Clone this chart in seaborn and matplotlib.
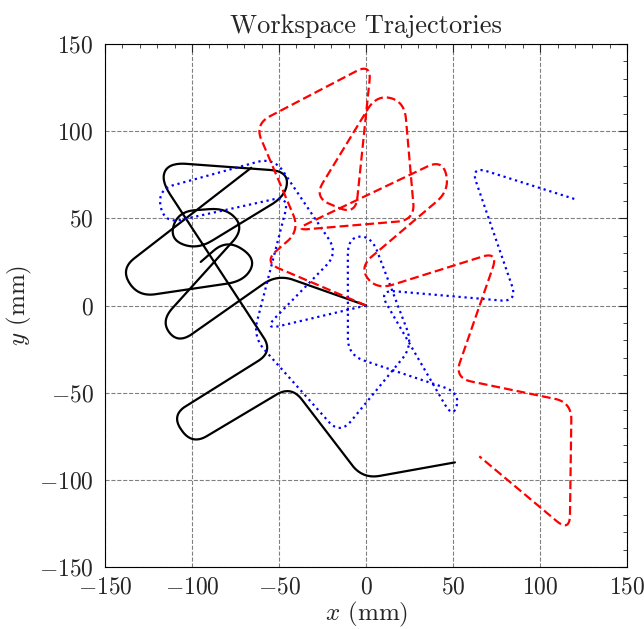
import numpy as np
import pandas as pd
import matplotlib
matplotlib.use("Agg")
import matplotlib.pyplot as plt
import seaborn as sns

# ---- data: trajectory waypoints (mm) ----
black_x = [0, -51, -108, -118, -70, -80, -108, -113, -97, -46, -45, -113, -118,
           -53.5, -112, -100, -43, -2, 51]
black_y = [0, 18, -22, -9, 44, 56, 54, 38, 32, 63, 77, 82, 72,
           -26.5, -63, -80, -46, -99.5, -90]

black_branch_x = [-66, -141, -131, -70, -63, -80, -95]
black_branch_y = [79, 21, 5, 14, 27, 38, 25]

blue_x = [0, -59, -16, -53, -120, -116, -44, -65, -15, 27, 3, -10.5, -10.5, 54, 50, 7, 87, 60, 121]
blue_y = [0, -14, 30, 85, 66.5, 47, 63, -18, -74, -23, 40, 39, -28.5, -50, -65, 9, 2, 80, 60.7]

red_x = [0, -59, -38, -64, 3, -6, -30, 6, 22, 28, -42, 44, 48, -4, 6, 76, 50.7, 118, 117, 65]
red_y = [0, 25, 43, 104, 139, 52, 62, 121, 117, 49, 43, 84, 66, 22, 9, 31, -41.6, -55.5, -130, -86.5]

blend_radius = 10.0


def blended(xs, ys, r=blend_radius, n=16):
    P = np.column_stack([xs, ys]).astype(float)
    out = [P[0]]
    for i in range(1, len(P) - 1):
        a, v, b = P[i - 1], P[i], P[i + 1]
        la, lb = np.linalg.norm(v - a), np.linalg.norm(b - v)
        da, db = min(r, 0.5 * la), min(r, 0.5 * lb)
        p0 = v + (a - v) / la * da
        p2 = v + (b - v) / lb * db
        t = np.linspace(0, 1, n)[:, None]
        out.extend(list((1 - t) ** 2 * p0 + 2 * (1 - t) * t * v + t ** 2 * p2))
    out.append(P[-1])
    out = np.array(out)
    return out[:, 0], out[:, 1]


pieces = [
    ("black", "main", black_x, black_y),
    ("black", "branch", black_branch_x, black_branch_y),
    ("blue", "main", blue_x, blue_y),
    ("red", "main", red_x, red_y),
]
frames = []
for name, part, xs, ys in pieces:
    bx, by = blended(xs, ys)
    frames.append(pd.DataFrame({"x": bx, "y": by, "traj": name, "part": part}))
df = pd.concat(frames, ignore_index=True)

sns.set_theme(style="white")
plt.rcParams.update({
    "font.family": "serif",
    "font.serif": ["cmr10", "DejaVu Serif"],
    "mathtext.fontset": "cm",
    "axes.formatter.use_mathtext": True,
    "axes.unicode_minus": True,
})

fig = plt.figure(figsize=(6.44, 6.29), dpi=100)
ax = fig.add_axes([0.163, 0.0986, 0.811, 0.8314])

styles = {"black": ("black", "-"), "blue": ("blue", (0, (1, 1.7))), "red": ("red", (0, (4, 1.8)))}
for name in ["black", "blue", "red"]:
    c, ls = styles[name]
    for part in ["main", "branch"]:
        sub = df[(df.traj == name) & (df.part == part)]
        if sub.empty:
            continue
        sns.lineplot(data=sub, x="x", y="y", sort=False, estimator=None, color=c,
                     linestyle=ls, linewidth=1.6, ax=ax, legend=False)

ax.set_xlim(-150, 150)
ax.set_ylim(-150, 150)
ax.set_xticks(np.arange(-150, 151, 50))
ax.set_yticks(np.arange(-150, 151, 50))
ax.set_xticks(np.arange(-150, 151, 10), minor=True)
ax.set_yticks(np.arange(-150, 151, 10), minor=True)
ax.grid(True, which="major", color="gray", linestyle="--", linewidth=0.8)
ax.tick_params(which="both", direction="in", top=True, right=True, labelsize=17)
ax.tick_params(axis="x", which="major", pad=7)
ax.tick_params(axis="y", which="major", pad=8)
ax.tick_params(which="major", length=6, width=0.8)
ax.tick_params(which="minor", length=3, width=0.6)
for s in ax.spines.values():
    s.set_color("black")
    s.set_linewidth(0.8)
ax.set_xlabel("$x$ (mm)", fontsize=18, labelpad=1)
ax.set_ylabel("$y$ (mm)", fontsize=18, labelpad=4)
ax.set_title("Workspace Trajectories", fontsize=19, pad=8)

fig.savefig("out.png", dpi=100)
